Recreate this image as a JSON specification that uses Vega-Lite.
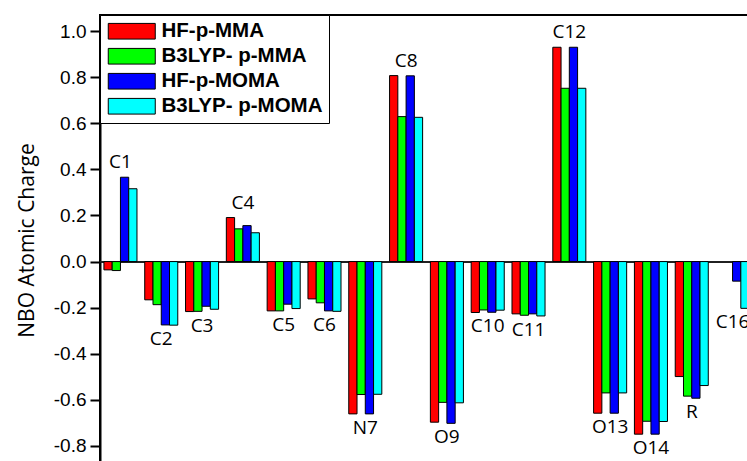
{
  "$schema": "https://vega.github.io/schema/vega-lite/v6.json",
  "autosize": {"type": "none"},
  "padding": {"left": 100, "top": 15, "right": 0, "bottom": 0},
  "width": 653,
  "height": 477,
  "background": "white",
  "config": {"view": {"stroke": "black", "strokeWidth": 2}},
  "data": {"values": [
    {"atom": "C1", "method": "HF-p-MMA", "charge": -0.036},
    {"atom": "C1", "method": "B3LYP- p-MMA", "charge": -0.039},
    {"atom": "C1", "method": "HF-p-MOMA", "charge": 0.366},
    {"atom": "C1", "method": "B3LYP- p-MOMA", "charge": 0.316},
    {"atom": "C2", "method": "HF-p-MMA", "charge": -0.166},
    {"atom": "C2", "method": "B3LYP- p-MMA", "charge": -0.187},
    {"atom": "C2", "method": "HF-p-MOMA", "charge": -0.275},
    {"atom": "C2", "method": "B3LYP- p-MOMA", "charge": -0.276},
    {"atom": "C3", "method": "HF-p-MMA", "charge": -0.217},
    {"atom": "C3", "method": "B3LYP- p-MMA", "charge": -0.216},
    {"atom": "C3", "method": "HF-p-MOMA", "charge": -0.194},
    {"atom": "C3", "method": "B3LYP- p-MOMA", "charge": -0.207},
    {"atom": "C4", "method": "HF-p-MMA", "charge": 0.191},
    {"atom": "C4", "method": "B3LYP- p-MMA", "charge": 0.142},
    {"atom": "C4", "method": "HF-p-MOMA", "charge": 0.156},
    {"atom": "C4", "method": "B3LYP- p-MOMA", "charge": 0.125},
    {"atom": "C5", "method": "HF-p-MMA", "charge": -0.214},
    {"atom": "C5", "method": "B3LYP- p-MMA", "charge": -0.214},
    {"atom": "C5", "method": "HF-p-MOMA", "charge": -0.185},
    {"atom": "C5", "method": "B3LYP- p-MOMA", "charge": -0.204},
    {"atom": "C6", "method": "HF-p-MMA", "charge": -0.162},
    {"atom": "C6", "method": "B3LYP- p-MMA", "charge": -0.179},
    {"atom": "C6", "method": "HF-p-MOMA", "charge": -0.214},
    {"atom": "C6", "method": "B3LYP- p-MOMA", "charge": -0.216},
    {"atom": "N7", "method": "HF-p-MMA", "charge": -0.661},
    {"atom": "N7", "method": "B3LYP- p-MMA", "charge": -0.577},
    {"atom": "N7", "method": "HF-p-MOMA", "charge": -0.661},
    {"atom": "N7", "method": "B3LYP- p-MOMA", "charge": -0.576},
    {"atom": "C8", "method": "HF-p-MMA", "charge": 0.807},
    {"atom": "C8", "method": "B3LYP- p-MMA", "charge": 0.629},
    {"atom": "C8", "method": "HF-p-MOMA", "charge": 0.806},
    {"atom": "C8", "method": "B3LYP- p-MOMA", "charge": 0.626},
    {"atom": "O9", "method": "HF-p-MMA", "charge": -0.697},
    {"atom": "O9", "method": "B3LYP- p-MMA", "charge": -0.611},
    {"atom": "O9", "method": "HF-p-MOMA", "charge": -0.702},
    {"atom": "O9", "method": "B3LYP- p-MOMA", "charge": -0.613},
    {"atom": "C10", "method": "HF-p-MMA", "charge": -0.221},
    {"atom": "C10", "method": "B3LYP- p-MMA", "charge": -0.21},
    {"atom": "C10", "method": "HF-p-MOMA", "charge": -0.22},
    {"atom": "C10", "method": "B3LYP- p-MOMA", "charge": -0.211},
    {"atom": "C11", "method": "HF-p-MMA", "charge": -0.227},
    {"atom": "C11", "method": "B3LYP- p-MMA", "charge": -0.233},
    {"atom": "C11", "method": "HF-p-MOMA", "charge": -0.227},
    {"atom": "C11", "method": "B3LYP- p-MOMA", "charge": -0.236},
    {"atom": "C12", "method": "HF-p-MMA", "charge": 0.93},
    {"atom": "C12", "method": "B3LYP- p-MMA", "charge": 0.752},
    {"atom": "C12", "method": "HF-p-MOMA", "charge": 0.93},
    {"atom": "C12", "method": "B3LYP- p-MOMA", "charge": 0.752},
    {"atom": "O13", "method": "HF-p-MMA", "charge": -0.658},
    {"atom": "O13", "method": "B3LYP- p-MMA", "charge": -0.57},
    {"atom": "O13", "method": "HF-p-MOMA", "charge": -0.658},
    {"atom": "O13", "method": "B3LYP- p-MOMA", "charge": -0.57},
    {"atom": "O14", "method": "HF-p-MMA", "charge": -0.749},
    {"atom": "O14", "method": "B3LYP- p-MMA", "charge": -0.693},
    {"atom": "O14", "method": "HF-p-MOMA", "charge": -0.749},
    {"atom": "O14", "method": "B3LYP- p-MOMA", "charge": -0.694},
    {"atom": "R", "method": "HF-p-MMA", "charge": -0.499},
    {"atom": "R", "method": "B3LYP- p-MMA", "charge": -0.584},
    {"atom": "R", "method": "HF-p-MOMA", "charge": -0.593},
    {"atom": "R", "method": "B3LYP- p-MOMA", "charge": -0.538},
    {"atom": "C16", "method": "HF-p-MOMA", "charge": -0.085},
    {"atom": "C16", "method": "B3LYP- p-MOMA", "charge": -0.203}
  ]},
  "layer": [
    {
      "mark": {"type": "rule", "color": "#222222", "strokeWidth": 1},
      "encoding": {"y": {"datum": 0, "type": "quantitative"}}
    },
    {
      "mark": {"type": "bar", "stroke": "black", "strokeWidth": 1},
      "encoding": {
        "x": {"field": "atom", "type": "nominal", "sort": ["C1","C2","C3","C4","C5","C6","N7","C8","O9","C10","C11","C12","O13","O14","R","C16"], "scale": {"paddingInner": 0.19, "paddingOuter": 0.096}, "axis": null},
        "xOffset": {"field": "method", "type": "nominal", "sort": ["HF-p-MMA","B3LYP- p-MMA","HF-p-MOMA","B3LYP- p-MOMA"], "scale": {"paddingInner": 0, "paddingOuter": 0}},
        "y": {"field": "charge", "type": "quantitative", "scale": {"domain": [-1.0, 1.07], "nice": false, "zero": false},
          "axis": {
            "title": "NBO Atomic Charge",
            "titleFont": "Open Sans", "titleFontSize": 21, "titleFontWeight": "normal", "titleColor": "black",
            "titlePadding": 16, "titleY": 225,
            "values": [-0.8,-0.7,-0.6,-0.5,-0.4,-0.3,-0.2,-0.1,0,0.1,0.2,0.3,0.4,0.5,0.6,0.7,0.8,0.9,1.0],
            "labelOverlap": false,
            "labelExpr": "abs(round(datum.value*10)) % 2 == 0 ? replace(format(datum.value, '.1f'), '\u2212', '-') : ''",
            "tickSize": {"condition": {"test": "abs(round(datum.value*10)) % 2 == 0", "value": 10}, "value": 5},
            "grid": false,
            "domainColor": "black", "domainWidth": 2,
            "tickColor": "black", "tickWidth": 2,
            "labelFont": "Liberation Sans", "labelFontSize": 19, "labelColor": "black", "labelPadding": 4
          }
        },
        "color": {"field": "method", "type": "nominal",
          "scale": {"domain": ["HF-p-MMA","B3LYP- p-MMA","HF-p-MOMA","B3LYP- p-MOMA"], "range": ["#ff0000","#00ff00","#0000ff","#00ffff"]},
          "legend": {
            "title": null, "orient": "top-left", "offset": 0, "padding": 6,
            "strokeColor": "black", "fillColor": "white",
            "symbolType": "M-1,-0.98H4.875V0.98H-1Z", "symbolSize": 256,
            "symbolStrokeColor": "black", "symbolStrokeWidth": 1, "symbolOpacity": 1,
            "labelFont": "Liberation Sans", "labelFontWeight": "bold", "labelFontSize": 20.5, "labelColor": "black",
            "labelOffset": 35, "labelLimit": 400, "rowPadding": 4
          }
        }
      }
    },
    {
      "transform": [
        {"aggregate": [{"op": "max", "field": "charge", "as": "vmax"}, {"op": "min", "field": "charge", "as": "vmin"}], "groupby": ["atom"]},
        {"filter": "datum.vmax > -datum.vmin"}
      ],
      "mark": {"type": "text", "font": "Open Sans", "fontSize": 19, "color": "black", "baseline": "alphabetic", "dy": -9},
      "encoding": {
        "x": {"field": "atom", "type": "nominal", "sort": ["C1","C2","C3","C4","C5","C6","N7","C8","O9","C10","C11","C12","O13","O14","R","C16"]},
        "y": {"field": "vmax", "type": "quantitative"},
        "text": {"field": "atom"}
      }
    },
    {
      "transform": [
        {"aggregate": [{"op": "max", "field": "charge", "as": "vmax"}, {"op": "min", "field": "charge", "as": "vmin"}], "groupby": ["atom"]},
        {"filter": "datum.vmax <= -datum.vmin"}
      ],
      "mark": {"type": "text", "font": "Open Sans", "fontSize": 19, "color": "black", "baseline": "top", "dy": 5},
      "encoding": {
        "x": {"field": "atom", "type": "nominal", "sort": ["C1","C2","C3","C4","C5","C6","N7","C8","O9","C10","C11","C12","O13","O14","R","C16"]},
        "y": {"field": "vmin", "type": "quantitative"},
        "text": {"field": "atom"}
      }
    }
  ]
}
